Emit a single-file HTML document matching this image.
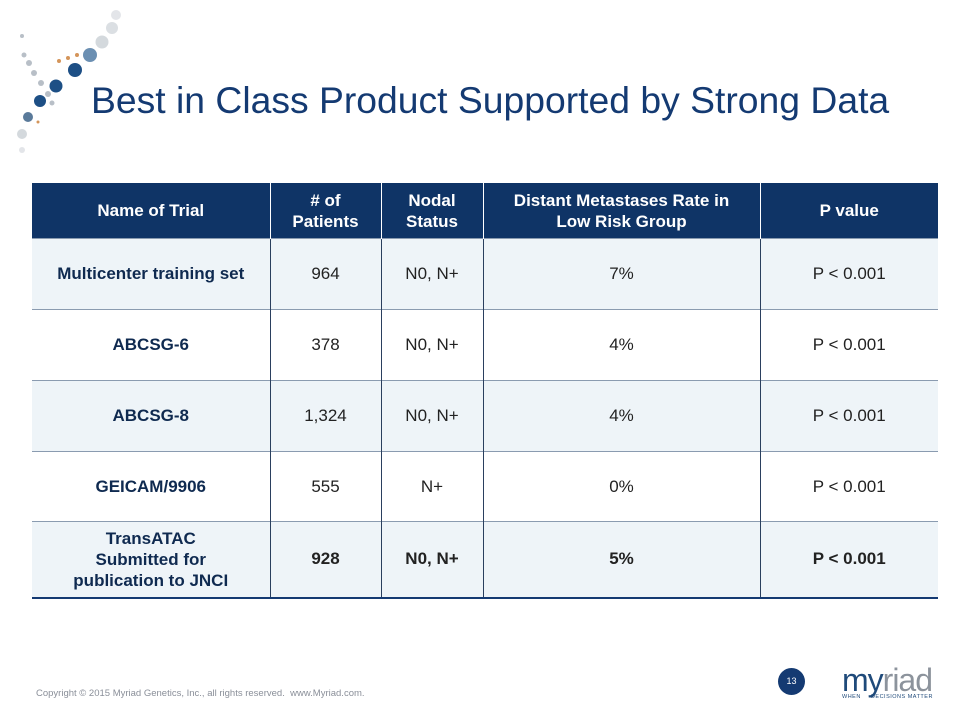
<!DOCTYPE html>
<html><head><meta charset="utf-8"><style>
body{margin:0;width:960px;height:720px;background:#fff;position:relative;overflow:hidden;font-family:"Liberation Sans",Arial,sans-serif}
.title{position:absolute;left:91px;top:79px;font-size:37.3px;color:#143a72;white-space:nowrap}
table{position:absolute;left:32px;top:183px;border-collapse:collapse;width:906px;font-size:17px;color:#222}
th{background:#0f3466;color:#fff;font-weight:bold;height:55px;padding:0 4px;line-height:21px;border-left:1px solid #fff}
th:first-child{border-left:none}
td{text-align:center;border-left:1px solid #2a3f5e;border-top:1px solid #8a9bb0;padding:0 4px}
td:first-child{border-left:none;font-weight:bold;color:#0f2a50}
tr.l td{background:#eef4f8}
tr:last-child td{border-bottom:2px solid #143a72;font-weight:bold}
.foot{position:absolute;left:36px;top:688px;font-size:9.5px;color:#8a8f99}
.pg{position:absolute;left:778px;top:668px;width:27px;height:27px;border-radius:50%;background:#143a72;color:#fff;font-size:9px;text-align:center;line-height:27px}
.logo{position:absolute;left:842px;top:662px;font-size:32px;color:#1f4a7a;letter-spacing:-1px}
.logo span{color:#8c939c}
.tag{position:absolute;left:842px;top:694px;font-size:5.5px;color:#1f4a7a;letter-spacing:0.5px}
</style></head><body>
<svg style="position:absolute;left:0;top:0" width="160" height="170">
<g fill="#b8bfc7"><circle cx="116" cy="15" r="5" opacity=".4"/><circle cx="112" cy="28" r="6" opacity=".5"/><circle cx="102" cy="42" r="6.5" opacity=".6"/><circle cx="22" cy="36" r="2"/><circle cx="24" cy="55" r="2.5"/><circle cx="29" cy="63" r="3"/><circle cx="34" cy="73" r="3"/><circle cx="41" cy="83" r="3"/><circle cx="48" cy="94" r="3"/><circle cx="52" cy="103" r="2.5"/><circle cx="22" cy="134" r="5" opacity=".6"/><circle cx="22" cy="150" r="3" opacity=".4"/></g>
<g fill="#d4955a"><circle cx="59" cy="61" r="2"/><circle cx="68" cy="58" r="2"/><circle cx="77" cy="55" r="2"/><circle cx="38" cy="122" r="1.5"/></g>
<circle cx="90" cy="55" r="7" fill="#6b8fb2"/><circle cx="75" cy="70" r="7" fill="#1d4f85"/><circle cx="56" cy="86" r="6.5" fill="#1d4f85"/><circle cx="40" cy="101" r="6" fill="#1d4f85"/><circle cx="28" cy="117" r="5" fill="#5a7a9a"/>
</svg>
<div class="title">Best in Class Product Supported by Strong Data</div>
<table>
<colgroup><col style="width:238px"><col style="width:111px"><col style="width:102px"><col style="width:277px"><col style="width:178px"></colgroup>
<tr><th>Name of Trial</th><th># of<br>Patients</th><th>Nodal<br>Status</th><th>Distant Metastases Rate in<br>Low Risk Group</th><th>P value</th></tr>
<tr class="l" style="height:71px"><td>Multicenter training set</td><td>964</td><td>N0, N+</td><td>7%</td><td>P &lt; 0.001</td></tr>
<tr style="height:71px"><td>ABCSG-6</td><td>378</td><td>N0, N+</td><td>4%</td><td>P &lt; 0.001</td></tr>
<tr class="l" style="height:71px"><td>ABCSG-8</td><td>1,324</td><td>N0, N+</td><td>4%</td><td>P &lt; 0.001</td></tr>
<tr style="height:70px"><td>GEICAM/9906</td><td>555</td><td>N+</td><td>0%</td><td>P &lt; 0.001</td></tr>
<tr class="l" style="height:76px"><td style="line-height:21px">TransATAC<br>Submitted for<br>publication to JNCI</td><td>928</td><td>N0, N+</td><td>5%</td><td>P &lt; 0.001</td></tr>
</table>
<div class="foot">Copyright © 2015 Myriad Genetics, Inc., all rights reserved.&nbsp; www.Myriad.com.</div>
<div class="pg">13</div>
<div class="logo">my<span>riad</span></div>
<div class="tag">WHEN &nbsp;&nbsp;&nbsp;&nbsp;DECISIONS MATTER</div>
</body></html>
